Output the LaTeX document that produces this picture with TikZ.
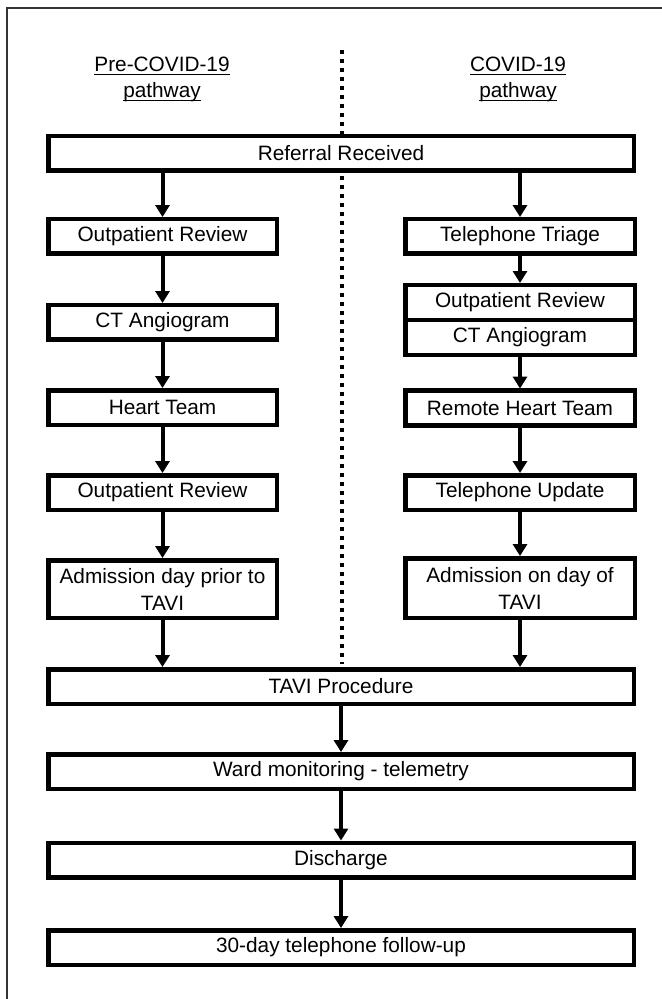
\documentclass[tikz,border=0pt]{standalone}
\usepackage{fontspec}
\setmainfont{Liberation Sans}
\usetikzlibrary{arrows.meta}
\newcommand\hdrul[1]{\underline{\smash{#1}}}
\begin{document}
\begin{tikzpicture}[x=0.5pt,y=-0.5pt,
  box/.style={draw=black, line width=2.25pt, fill=white, inner sep=0pt, outer sep=0pt,
    font=\fontsize{10.4}{13.5}\selectfont, align=center},
  wide/.style={box, minimum width=292.75pt, minimum height=17.25pt},
  lbox/.style={box, minimum width=114.25pt, minimum height=17.25pt},
  rbox/.style={box, minimum width=114.75pt, minimum height=17.25pt},
  arr/.style={line width=2pt, -{Triangle[width=7pt,length=6pt]}, shorten >=1.1pt},
  divider/.style={line width=2pt, dash pattern=on 2pt off 2.5pt},
  frame/.style={line width=0.8pt, draw=black!80},
  hdr/.style={font=\fontsize{10.4}{13}\selectfont, inner sep=0pt}
]
\useasboundingbox (0,0) rectangle (662,999);
\clip (0,0) rectangle (662,999);
% outer frame (only left and top edges visible)
\draw[frame] (7,1100) -- (7,8) -- (720,8);

% headers
\node[hdr, anchor=base] (hl1) at (162,72) {\hdrul{Pre-COVID-19}};
\node[hdr, anchor=base] (hl2) at (162,98) {\hdrul{pathway}};
\node[hdr, anchor=base] (hr1) at (518,72) {\hdrul{COVID-19}};
\node[hdr, anchor=base] (hr2) at (518,98) {\hdrul{pathway}};

% divider
\coordinate (dtop) at (342,50);
\coordinate (dbot) at (342,664);
\draw[divider] (dtop) -- (dbot);

% full-width boxes
\node[wide] (ref) at (341,153.5) {Referral Received};
\node[wide] (tavi) at (341,686.5) {TAVI Procedure};
\node[wide] (ward) at (341,771.5) {Ward monitoring - telemetry};
\node[wide] (dis) at (341,860) {Discharge};
\node[wide] (fu) at (341,947.5) {30-day telephone follow-up};

% left column
\node[lbox] (l1) at (162.5,236.5) {Outpatient Review};
\node[lbox] (l2) at (162.5,322.5) {CT Angiogram};
\node[lbox] (l3) at (162.5,407.5) {Heart Team};
\node[lbox] (l4) at (162.5,492.5) {Outpatient Review};
\node[lbox, minimum height=28.75pt] (l5) at (162.5,589) {Admission day prior to\\TAVI};

% right column
\node[rbox] (r1) at (520,236.5) {Telephone Triage};
\node[rbox, minimum height=17.375pt] (r2a) at (520,302.6) {Outpatient Review};
\node[rbox, minimum height=17.375pt] (r2b) at (520,337.4) {CT Angiogram};
\node[rbox] (r3) at (520,408) {Remote Heart Team};
\node[rbox] (r4) at (520,492.5) {Telephone Update};
\node[rbox, minimum height=29.75pt] (r5) at (520,588) {Admission on day of\\TAVI};

% arrows left
\draw[arr] (ref.south -| l1.north) -- (l1.north);
\draw[arr] (l1.south) -- (l2.north);
\draw[arr] (l2.south) -- (l3.north);
\draw[arr] (l3.south) -- (l4.north);
\draw[arr] (l4.south) -- (l5.north);
\draw[arr] (l5.south) -- (l5.south |- tavi.north);

% arrows right
\draw[arr] (ref.south -| r1.north) -- (r1.north);
\draw[arr] (r1.south) -- (r2a.north);
\draw[arr] (r2b.south) -- (r3.north);
\draw[arr] (r3.south) -- (r4.north);
\draw[arr] (r4.south) -- (r5.north);
\draw[arr] (r5.south) -- (r5.south |- tavi.north);

% arrows centre
\draw[arr] (tavi.south) -- (ward.north);
\draw[arr] (ward.south) -- (dis.north);
\draw[arr] (dis.south) -- (fu.north);
\end{tikzpicture}
\end{document}
